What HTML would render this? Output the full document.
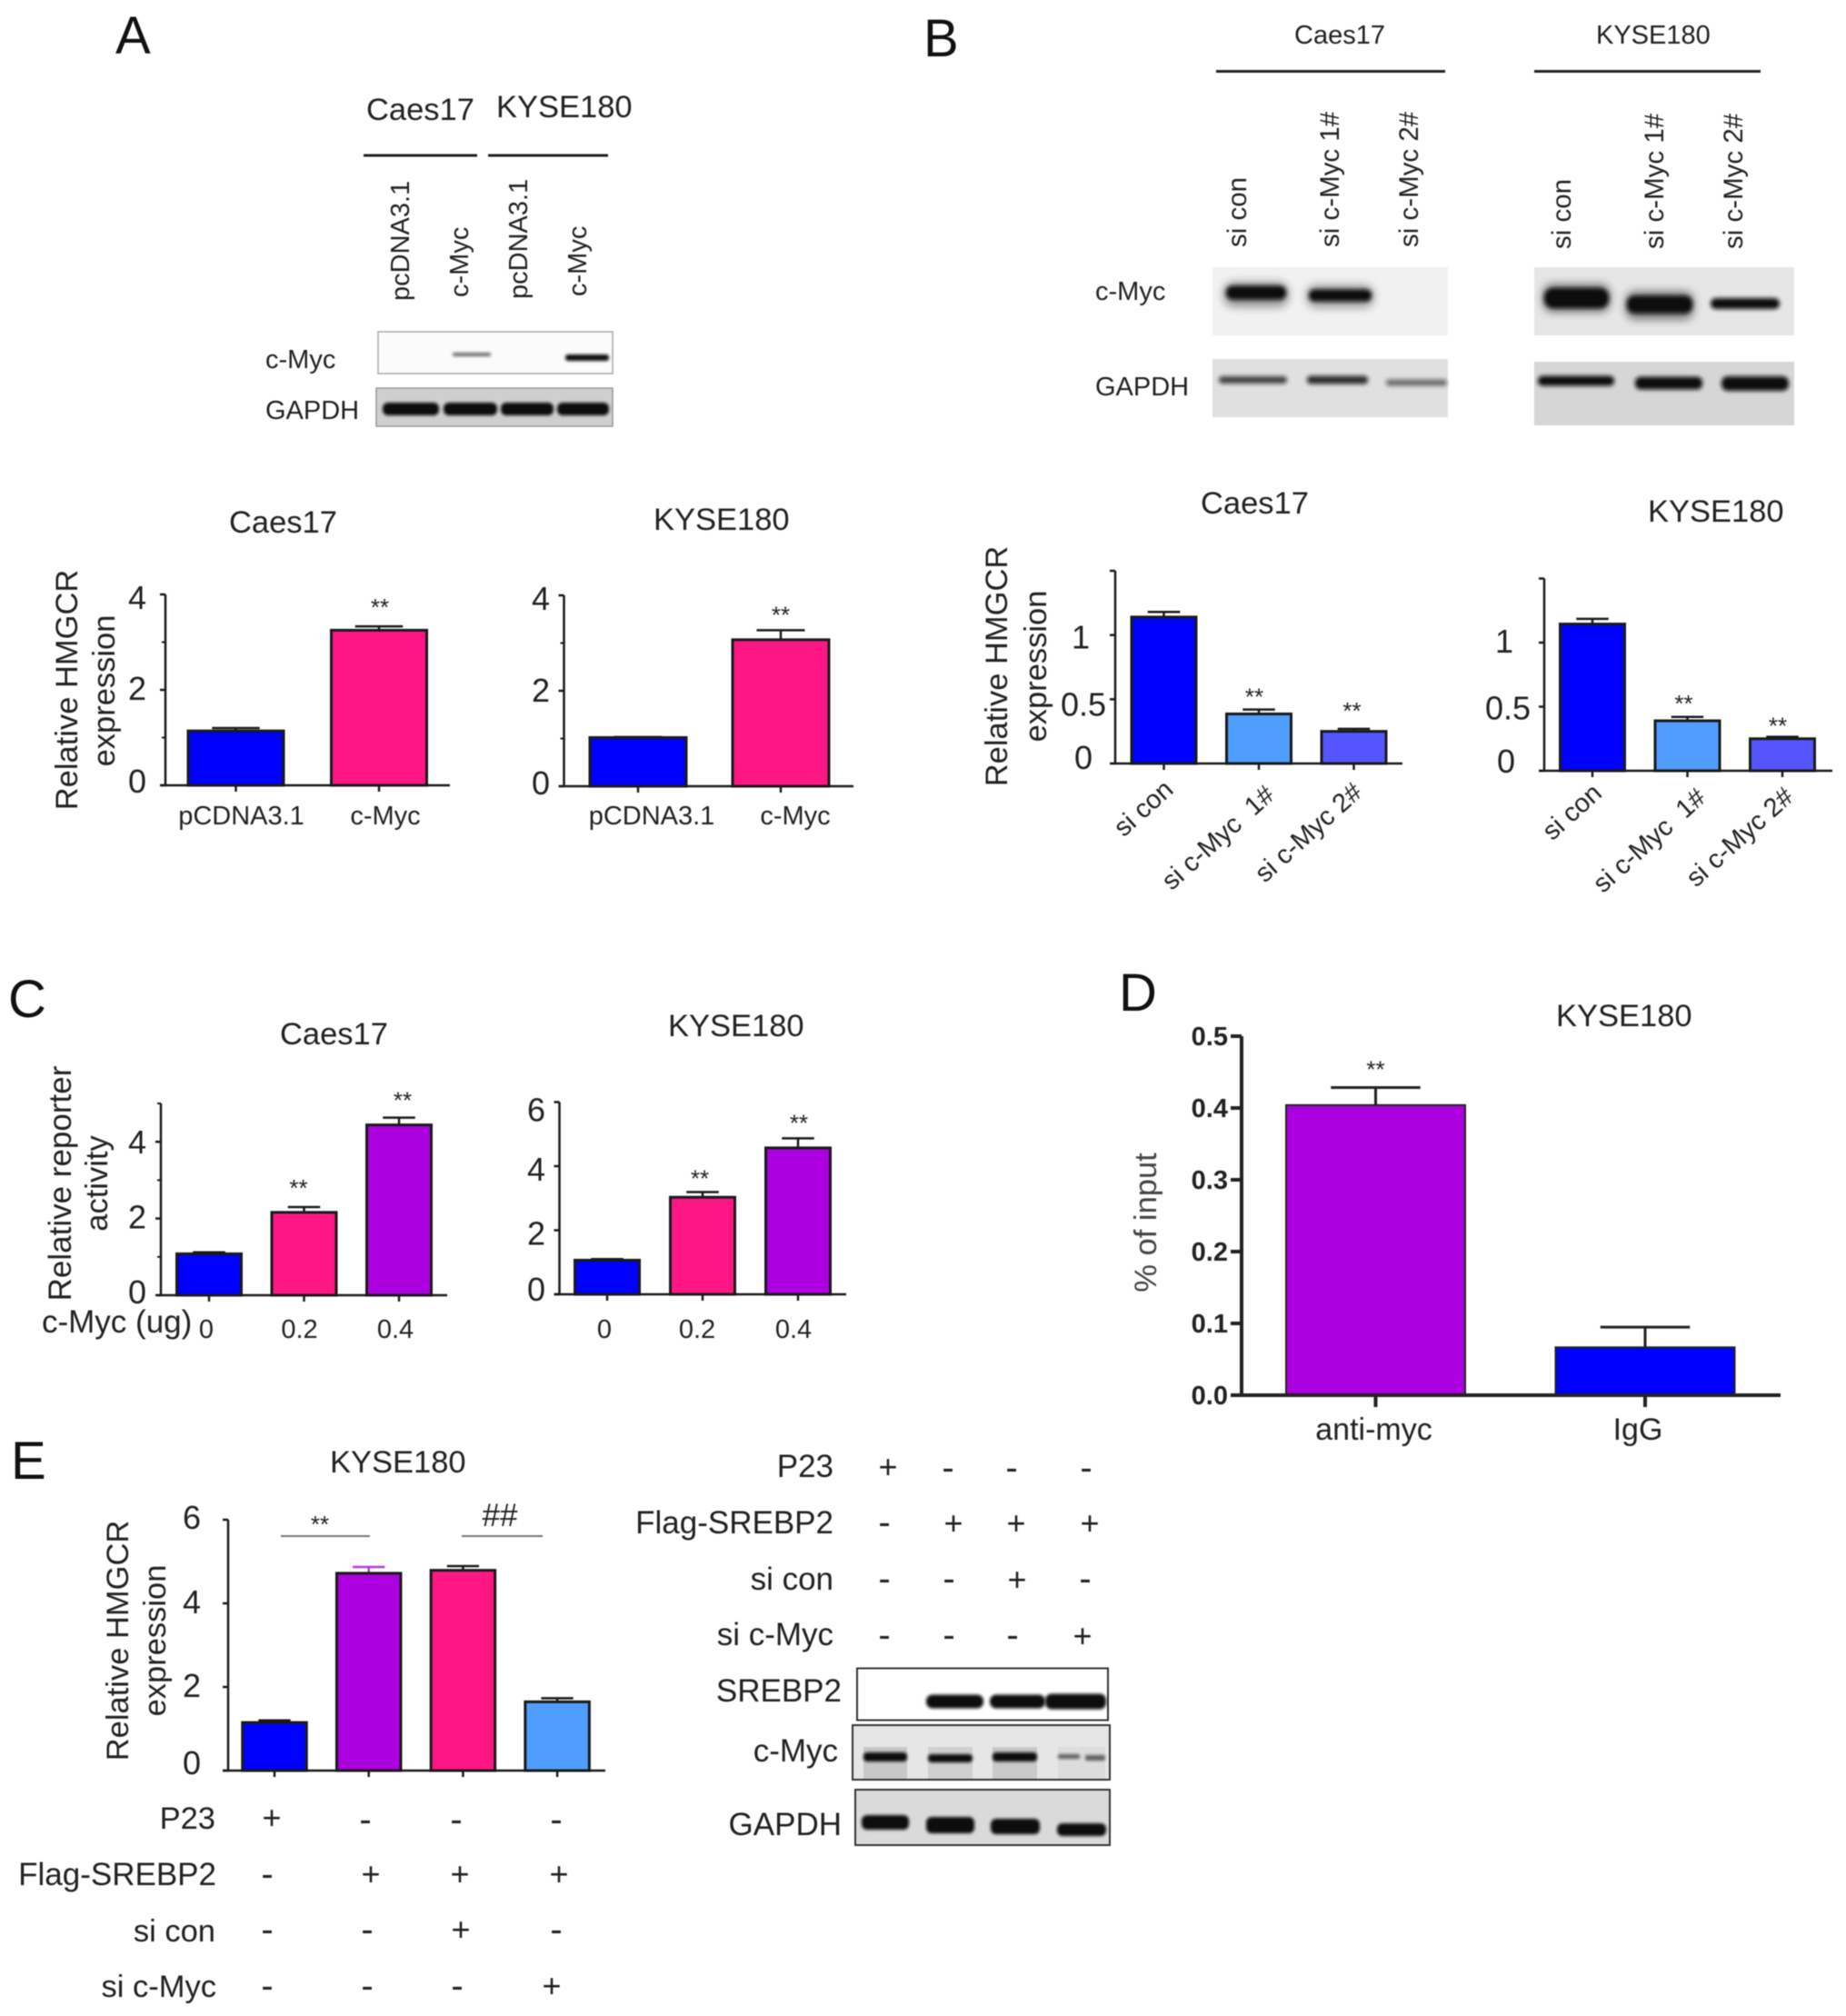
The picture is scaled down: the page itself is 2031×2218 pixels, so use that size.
<!DOCTYPE html>
<html lang="en">
<head>
<meta charset="utf-8">
<title>c-Myc and HMGCR figure</title>
<style>
html,body{margin:0;padding:0;background:#fff;}
svg{display:block;filter:blur(0.6px);}
text{font-family:"Liberation Sans",Arial,sans-serif;fill:#222;white-space:pre;}
.letter{font-size:58px;fill:#111;}
.t34{font-size:34.5px;}
.t35{font-size:35px;}
.t29{font-size:29px;}
.rot{font-size:29px;}
.rotb{font-size:29.5px;}
.band{fill:#0c0c0c;}
.plus{font-size:36px;text-anchor:middle;}
.minus{font-size:40px;text-anchor:middle;}
</style>
</head>
<body>
<svg id="figure" xmlns="http://www.w3.org/2000/svg" width="2031" height="2218" viewBox="0 0 2031 2218">
<defs>
<filter id="b1" x="-20%" y="-60%" width="140%" height="220%"><feGaussianBlur stdDeviation="1.5"/></filter>
<filter id="b2" x="-20%" y="-80%" width="140%" height="260%"><feGaussianBlur stdDeviation="2.5"/></filter>
<filter id="b4" x="-20%" y="-100%" width="140%" height="300%"><feGaussianBlur stdDeviation="5"/></filter>
</defs>
<rect width="2031" height="2218" fill="#fff"/>

<text class="letter" x="127" y="59">A</text>
<text class="letter" x="1016" y="62">B</text>
<text class="letter" x="9" y="1119">C</text>
<text class="letter" x="1231" y="1112">D</text>
<text class="letter" x="12" y="1627">E</text>

<!-- Panel A western blot -->
<g>
<text class="t34" x="403" y="132">Caes17</text>
<text class="t34" x="546" y="129">KYSE180</text>
<line x1="400" y1="171" x2="525" y2="171" stroke="#222" stroke-width="3"/>
<line x1="537" y1="171" x2="669" y2="171" stroke="#222" stroke-width="3"/>
<text class="rot" transform="translate(450,331) rotate(-90)">pcDNA3.1</text>
<text class="rot" transform="translate(515,327) rotate(-90)">c-Myc</text>
<text class="rot" transform="translate(580,329) rotate(-90)">pcDNA3.1</text>
<text class="rot" transform="translate(645,326) rotate(-90)">c-Myc</text>
<text class="t29" x="292" y="405">c-Myc</text>
<text class="t29" x="292" y="461">GAPDH</text>
<rect x="416" y="365" width="258" height="46" fill="#fbfbfb" stroke="#aaa" stroke-width="1.5"/>
<rect class="band" x="498" y="388" width="42" height="4" rx="2" filter="url(#b1)" opacity=".6"/>
<rect class="band" x="622" y="390" width="48" height="7" rx="3" filter="url(#b1)"/>
<rect x="414" y="427" width="260" height="42" fill="#cfcfcf" stroke="#999" stroke-width="1.5"/>
<rect class="band" x="421" y="443" width="62" height="14" rx="6" filter="url(#b1)"/>
<rect class="band" x="488" y="443" width="59" height="14" rx="6" filter="url(#b1)"/>
<rect class="band" x="551" y="443" width="58" height="14" rx="6" filter="url(#b1)"/>
<rect class="band" x="613" y="443" width="57" height="14" rx="6" filter="url(#b1)"/>
</g>

<!-- Panel B western blots -->
<g>
<text class="t29" x="1424" y="48">Caes17</text>
<text class="t29" x="1756" y="48">KYSE180</text>
<line x1="1338" y1="78.5" x2="1590" y2="78.5" stroke="#222" stroke-width="3"/>
<line x1="1688" y1="78.5" x2="1937" y2="78.5" stroke="#222" stroke-width="3"/>
<text class="rotb" transform="translate(1371,272) rotate(-90)">si con</text>
<text class="rotb" transform="translate(1473,272) rotate(-90)">si c-Myc 1#</text>
<text class="rotb" transform="translate(1560,272) rotate(-90)">si c-Myc 2#</text>
<text class="rotb" transform="translate(1728,274) rotate(-90)">si con</text>
<text class="rotb" transform="translate(1830,274) rotate(-90)">si c-Myc 1#</text>
<text class="rotb" transform="translate(1917,274) rotate(-90)">si c-Myc 2#</text>
<text class="t29" x="1205" y="330">c-Myc</text>
<text class="t29" x="1205" y="435">GAPDH</text>
<rect x="1334" y="294" width="259" height="75" fill="#f1f1f1"/>
<rect class="band" x="1347" y="311" width="70" height="26" rx="10" filter="url(#b4)" opacity=".45"/>
<rect class="band" x="1438" y="314" width="73" height="24" rx="10" filter="url(#b4)" opacity=".4"/>
<rect class="band" x="1349" y="314.5" width="66" height="15" rx="7" filter="url(#b2)"/>
<rect class="band" x="1440" y="318.5" width="69" height="13" rx="6" filter="url(#b2)"/>
<rect x="1334" y="395" width="259" height="64" fill="#e0e0e0"/>
<rect class="band" x="1341" y="414" width="75" height="8" rx="4" filter="url(#b2)" opacity=".75"/>
<rect class="band" x="1438" y="413.5" width="67" height="9" rx="4" filter="url(#b2)" opacity=".85"/>
<rect class="band" x="1525" y="417.5" width="67" height="7" rx="3" filter="url(#b2)" opacity=".55"/>
<rect x="1688" y="294" width="286" height="75" fill="#e6e6e6"/>
<rect class="band" x="1698" y="313" width="73" height="30" rx="10" filter="url(#b4)" opacity=".55"/>
<rect class="band" x="1789" y="321" width="74" height="30" rx="10" filter="url(#b4)" opacity=".55"/>
<rect class="band" x="1699" y="317" width="71" height="22" rx="10" filter="url(#b2)"/>
<rect class="band" x="1790" y="325.5" width="72" height="19" rx="8" filter="url(#b2)"/>
<rect class="band" x="1882" y="328" width="76" height="12" rx="6" filter="url(#b2)"/>
<rect x="1688" y="398" width="286" height="70" fill="#d6d6d6"/>
<rect class="band" x="1692" y="413.5" width="84" height="11" rx="5" filter="url(#b2)"/>
<rect class="band" x="1799" y="414.5" width="74" height="14" rx="6" filter="url(#b2)"/>
<rect class="band" x="1894" y="414" width="74" height="16" rx="7" filter="url(#b2)"/>
</g>

<!-- Chart titles and axis titles -->
<g>
<text class="t34" x="252" y="586">Caes17</text>
<text class="t34" x="719" y="583">KYSE180</text>
<text class="t34" text-anchor="middle" transform="translate(85,759) rotate(-90)">Relative HMGCR</text>
<text class="t34" text-anchor="middle" transform="translate(126,760) rotate(-90)">expression</text>
<text class="t34" x="1321" y="565">Caes17</text>
<text class="t34" x="1813" y="574">KYSE180</text>
<text class="t34" text-anchor="middle" transform="translate(1108,733) rotate(-90)">Relative HMGCR</text>
<text class="t34" text-anchor="middle" transform="translate(1151,733) rotate(-90)">expression</text>
<text class="t34" x="308" y="1149">Caes17</text>
<text class="t34" x="735" y="1140">KYSE180</text>
<text class="t35" text-anchor="middle" transform="translate(78,1302) rotate(-90)">Relative reporter</text>
<text class="t34" text-anchor="middle" transform="translate(118,1302) rotate(-90)">activity</text>
<text class="t34" x="46" y="1466" style="font-size:35px">c-Myc (ug)</text>
<text class="t34" x="1712" y="1129">KYSE180</text>
<text class="t34" text-anchor="middle" style="fill:#444" transform="translate(1272,1345) rotate(-90)">% of input</text>
<text class="t34" x="363" y="1620">KYSE180</text>
<text class="t34" text-anchor="middle" transform="translate(141,1805) rotate(-90)">Relative HMGCR</text>
<text class="t34" text-anchor="middle" transform="translate(182,1805) rotate(-90)">expression</text>
</g>

<!-- Panel E significance -->
<g>
<line x1="309" y1="1696" x2="407" y2="1696" stroke="#777" stroke-width="2" transform="translate(0,-6)"/>
<line x1="508" y1="1696" x2="597" y2="1696" stroke="#777" stroke-width="2" transform="translate(0,-6)"/>
<text x="352" y="1686" font-size="26" text-anchor="middle">**</text>
<text x="550" y="1679" font-size="35" text-anchor="middle">##</text>
</g>

<!-- Panel E treatment table under chart -->
<g>
<g text-anchor="end">
<text class="t34" x="237" y="2012">P23</text>
<text class="t34" x="238" y="2074" style="font-size:35px">Flag-SREBP2</text>
<text class="t34" x="237" y="2136">si con</text>
<text class="t34" x="238" y="2197">si c-Myc</text>
</g>
<text class="plus" x="299" y="2012">+</text><text class="minus" x="402" y="2015">-</text><text class="minus" x="502" y="2015">-</text><text class="minus" x="612" y="2015">-</text>
<text class="minus" x="294" y="2075">-</text><text class="plus" x="408" y="2074">+</text><text class="plus" x="506" y="2074">+</text><text class="plus" x="615" y="2074">+</text>
<text class="minus" x="294" y="2136">-</text><text class="minus" x="404" y="2136">-</text><text class="plus" x="507" y="2135">+</text><text class="minus" x="612" y="2136">-</text>
<text class="minus" x="294" y="2198">-</text><text class="minus" x="404" y="2198">-</text><text class="minus" x="503" y="2198">-</text><text class="plus" x="607" y="2197">+</text>
</g>

<!-- Panel E blot -->
<g>
<g text-anchor="end">
<text class="t35" x="917" y="1625">P23</text>
<text class="t35" x="917" y="1687">Flag-SREBP2</text>
<text class="t35" x="917" y="1749">si con</text>
<text class="t35" x="917" y="1810">si c-Myc</text>
<text class="t35" x="926" y="1872">SREBP2</text>
<text class="t35" x="922" y="1938">c-Myc</text>
<text class="t35" x="926" y="2019">GAPDH</text>
</g>
<text class="plus" x="977" y="1626">+</text><text class="minus" x="1043" y="1628">-</text><text class="minus" x="1113" y="1628">-</text><text class="minus" x="1195" y="1628">-</text>
<text class="minus" x="973" y="1688">-</text><text class="plus" x="1049" y="1688">+</text><text class="plus" x="1118" y="1688">+</text><text class="plus" x="1199" y="1688">+</text>
<text class="minus" x="973" y="1750">-</text><text class="minus" x="1044" y="1750">-</text><text class="plus" x="1119" y="1750">+</text><text class="minus" x="1194" y="1750">-</text>
<text class="minus" x="973" y="1812">-</text><text class="minus" x="1044" y="1812">-</text><text class="minus" x="1114" y="1812">-</text><text class="plus" x="1191" y="1812">+</text>
<rect x="943" y="1835.5" width="276" height="57" fill="#fff" stroke="#333" stroke-width="2"/>
<rect class="band" x="1019" y="1864.5" width="63" height="15" rx="7" filter="url(#b1)"/>
<rect class="band" x="1089" y="1864.5" width="61" height="15" rx="7" filter="url(#b1)"/>
<rect class="band" x="1150" y="1863.5" width="67" height="17" rx="7" filter="url(#b1)"/>
<rect x="938" y="1898" width="283" height="60" fill="#e6e6e6" stroke="#333" stroke-width="2"/>
<rect x="950" y="1922" width="48" height="35" fill="#c8c8c8"/>
<rect x="1021" y="1922" width="49" height="35" fill="#d0d0d0"/>
<rect x="1092" y="1922" width="49" height="35" fill="#cacaca"/>
<rect x="1164" y="1922" width="52" height="35" fill="#dcdcdc"/>
<rect class="band" x="950" y="1928" width="48" height="10" rx="4" filter="url(#b1)"/>
<rect class="band" x="1021" y="1930" width="49" height="9" rx="4" filter="url(#b1)"/>
<rect class="band" x="1092" y="1928" width="49" height="10" rx="4" filter="url(#b1)"/>
<rect class="band" x="1164" y="1930" width="24" height="5" rx="2" filter="url(#b1)" opacity=".6"/>
<rect class="band" x="1194" y="1931" width="22" height="6" rx="2" filter="url(#b1)" opacity=".6"/>
<rect x="941" y="1969" width="280" height="61" fill="#dadada" stroke="#333" stroke-width="2"/>
<rect class="band" x="948" y="1997" width="52" height="16" rx="6" filter="url(#b1)"/>
<rect class="band" x="1019" y="1999" width="53" height="18" rx="6" filter="url(#b1)"/>
<rect class="band" x="1090" y="2001" width="54" height="17" rx="6" filter="url(#b1)"/>
<rect class="band" x="1163" y="2006" width="54" height="14" rx="6" filter="url(#b1)"/>
</g>

<g id="charts"></g>
</svg>

<script>
// ---- Chart data ----
const a1Categories = ['pCDNA3.1', 'c-Myc'];
const a1Values = [1.14, 3.25];
const a1Errors = [0.06, 0.08];
const a1Stars = ['', '**'];
const a2Categories = ['pCDNA3.1', 'c-Myc'];
const a2Values = [1.02, 3.07];
const a2Errors = [0.01, 0.2];
const a2Stars = ['', '**'];
const aTicks = [0, 2, 4];
const aTickLabels = ['0', '2', '4'];
const aMinorTicks = [1, 3];

const b1Categories = ['si con', 'si c-Myc  1#', 'si c-Myc 2#'];
const b1Values = [1.14, 0.386, 0.25];
const b1Errors = [0.04, 0.034, 0.02];
const b1Stars = ['', '**', '**'];
const b2Categories = ['si con', 'si c-Myc  1#', 'si c-Myc 2#'];
const b2Values = [1.145, 0.39, 0.25];
const b2Errors = [0.04, 0.03, 0.015];
const b2Stars = ['', '**', '**'];
const bTicks = [0, 0.5, 1, 1.5];
const bTickLabels = ['0', '0.5', '1', ''];

const c1Categories = ['0', '0.2', '0.4'];
const c1Values = [1.08, 2.16, 4.44];
const c1Errors = [0.04, 0.14, 0.19];
const c1Stars = ['', '**', '**'];
const c1Ticks = [0, 2, 4];
const c1TickLabels = ['0', '2', '4'];
const c1MinorTicks = [1, 3, 5];
const c2Categories = ['0', '0.2', '0.4'];
const c2Values = [1.065, 3.03, 4.57];
const c2Errors = [0.035, 0.16, 0.3];
const c2Stars = ['', '**', '**'];
const c2Ticks = [0, 2, 4, 6];
const c2TickLabels = ['0', '2', '4', '6'];

const dCategories = ['anti-myc', 'IgG'];
const dValues = [0.404, 0.0667];
const dErrors = [0.0245, 0.028];
const dStars = ['**', ''];
const dTicks = [0, 0.1, 0.2, 0.3, 0.4, 0.5];
const dTickLabels = ['0.0', '0.1', '0.2', '0.3', '0.4', '0.5'];

const eCategories = ['P23', 'Flag-SREBP2', 'si con', 'si c-Myc'];
const eValues = [1.15, 4.72, 4.79, 1.645];
const eErrors = [0.05, 0.15, 0.1, 0.085];
const eTicks = [0, 2, 4, 6];
const eTickLabels = ['0', '2', '4', '6'];

const BLUE = '#0000ff', PINK = '#ff1685', PURPLE = '#ad00e0', SKY = '#4f9dff', PERI = '#5555ff';

const NS = 'http://www.w3.org/2000/svg';
const chartsRoot = document.getElementById('charts');

function svgEl(tag, props, parent) {
  const el = document.createElementNS(NS, tag);
  for (const k in props) el.setAttribute(k, props[k]);
  parent.appendChild(el);
  return el;
}

function drawChart(cfg) {
  const ink = cfg.ink || '#1a1a1a';
  const g = svgEl('g', {}, chartsRoot);
  
  
  const yScale = function (v) { return cfg.yBase - v * (cfg.yBase - cfg.yTop) / cfg.vMax; };
  const xScale = function (i) { return cfg.firstCenter + i * cfg.step; };

  cfg.values.forEach(function (v, i) {
    const cx = xScale(i);
    const top = yScale(v);
    const errTop = yScale(v + cfg.errors[i]);
    const errColor = (cfg.errorColors && cfg.errorColors[i]) || ink;

    const stem = svgEl('line', { x1: cx, x2: cx, y1: top, y2: errTop, stroke: errColor, 'stroke-width': cfg.errW || 2.5 }, g);
    
    
    const cap = svgEl('line', { x1: cx - cfg.barW / 4, x2: cx + cfg.barW / 4, y1: errTop, y2: errTop, stroke: errColor, 'stroke-width': cfg.errW || 2.5 }, g);
    
    

    const bar = svgEl('rect', { x: cx - cfg.barW / 2, y: top, width: cfg.barW, height: cfg.yBase - top, fill: cfg.colors[i], stroke: ink, 'stroke-width': cfg.barStroke || 3 }, g);
    
    

    const tick = svgEl('line', { x1: cx, x2: cx, y1: cfg.yBase, y2: cfg.yBase + (cfg.xTickLen || 7), stroke: ink, 'stroke-width': cfg.axisW || 2.5 }, g);
    
    

    if (cfg.showCategories !== false) {
      const n = cfg.catNudge[i];
      const props = { 'font-size': cfg.catFont || 29 };
      if (cfg.catRotate) {
        props['text-anchor'] = 'end';
        props.transform = 'translate(' + (cx + n[0]) + ',' + (cfg.yBase + n[1]) + ') rotate(' + cfg.catRotate + ')';
      } else {
        props['text-anchor'] = 'middle';
        props.x = cx + n[0];
        props.y = cfg.yBase + n[1];
      }
      const lab = svgEl('text', props, g);
      lab.textContent = cfg.categories[i];
      
      
    }

    if (cfg.stars && cfg.stars[i]) {
      const sn = cfg.starNudge[i];
      const star = svgEl('text', { x: cx + sn[0], y: errTop - sn[1] + 14, 'font-size': 26, 'text-anchor': 'middle' }, g);
      star.textContent = cfg.stars[i];
      
      
    }
  });

  const yAxis = svgEl('line', { x1: cfg.x0, x2: cfg.x0, y1: cfg.yTop, y2: cfg.yBase + 1, stroke: ink, 'stroke-width': cfg.axisW || 2.5 }, g);
  
  
  const xAxis = svgEl('line', { x1: cfg.xStart, x2: cfg.xEnd, y1: cfg.yBase, y2: cfg.yBase, stroke: ink, 'stroke-width': cfg.axisW || 2.5 }, g);
  
  

  cfg.ticks.forEach(function (t, i) {
    const y = yScale(t);
    const tick = svgEl('line', { x1: cfg.x0 - (cfg.yTickLen || 6), x2: cfg.x0, y1: y, y2: y, stroke: ink, 'stroke-width': cfg.axisW || 2.5 }, g);
    
    
    if (cfg.tickLabels[i]) {
      const n = cfg.tickNudge[i];
      const lab = svgEl('text', { x: n[0], y: y + n[1], 'text-anchor': 'end', 'font-size': cfg.tickFont || 36, 'font-weight': cfg.tickWeight || 'normal' }, g);
      lab.textContent = cfg.tickLabels[i];
      
      
    }
  });
  (cfg.minorTicks || []).forEach(function (t) {
    const y = yScale(t);
    const tick = svgEl('line', { x1: cfg.x0 - 4, x2: cfg.x0, y1: y, y2: y, stroke: ink, 'stroke-width': 2 }, g);
    
    
  });
}

drawChart({ name: 'chart-a1-caes17', categories: a1Categories, values: a1Values, errors: a1Errors, stars: a1Stars,
  colors: [BLUE, PINK], ticks: aTicks, tickLabels: aTickLabels, minorTicks: aMinorTicks,
  x0: 182, xStart: 177, xEnd: 495, yTop: 654, yBase: 864, vMax: 4,
  firstCenter: 259.5, step: 157.5, barW: 105,
  catNudge: [[6, 43], [7, 43]], tickNudge: [[161, 8], [161, 11], [161, 16]], starNudge: [[0, 0], [1, 26]] });

drawChart({ name: 'chart-a2-kyse180', categories: a2Categories, values: a2Values, errors: a2Errors, stars: a2Stars,
  colors: [BLUE, PINK], ticks: aTicks, tickLabels: aTickLabels, minorTicks: aMinorTicks,
  x0: 620.5, xStart: 616, xEnd: 939, yTop: 655, yBase: 865, vMax: 4,
  firstCenter: 702, step: 157, barW: 106,
  catNudge: [[15, 42], [16, 42]], tickNudge: [[605, 9], [605, 12], [605, 16]], starNudge: [[0, 0], [0, 22]] });

drawChart({ name: 'chart-b1-caes17', categories: b1Categories, values: b1Values, errors: b1Errors, stars: b1Stars,
  colors: [BLUE, SKY, PERI], ticks: bTicks, tickLabels: bTickLabels,
  x0: 1227, xStart: 1224, xEnd: 1543, yTop: 628, yBase: 840, vMax: 1.5,
  firstCenter: 1280.5, step: 104.5, barW: 71,
  catRotate: -42, catNudge: [[12, 31], [19, 37], [11, 34]],
  tickNudge: [[1202, 6], [1217, 18], [1199, 15], [1199, 0]], starNudge: [[0, 0], [-5, 19], [-2, 25]] });

drawChart({ name: 'chart-b2-kyse180', categories: b2Categories, values: b2Values, errors: b2Errors, stars: b2Stars,
  colors: [BLUE, SKY, PERI], ticks: bTicks, tickLabels: bTickLabels,
  x0: 1699, xStart: 1694, xEnd: 2016, yTop: 636.5, yBase: 848, vMax: 1.5,
  firstCenter: 1752, step: 104.5, barW: 71,
  catRotate: -42, catNudge: [[12, 27], [22, 32], [14, 31]],
  tickNudge: [[1667, 2], [1684, 14], [1665, 11], [1665, 0]], starNudge: [[0, 0], [-4, 20], [-5, 17]] });

drawChart({ name: 'chart-c1-caes17', categories: c1Categories, values: c1Values, errors: c1Errors, stars: c1Stars,
  colors: [BLUE, PINK, PURPLE], ticks: c1Ticks, tickLabels: c1TickLabels, minorTicks: c1MinorTicks,
  x0: 177, xStart: 173.5, xEnd: 492, yTop: 1214, yBase: 1425, vMax: 5,
  firstCenter: 230, step: 104.5, barW: 71,
  catNudge: [[-3, 47], [-5, 47], [-4, 47]], tickNudge: [[161, 9], [161, 11], [161, 13]], starNudge: [[0, 0], [-6, 26], [4, 24]] });

drawChart({ name: 'chart-c2-kyse180', categories: c2Categories, values: c2Values, errors: c2Errors, stars: c2Stars,
  colors: [BLUE, PINK, PURPLE], ticks: c2Ticks, tickLabels: c2TickLabels,
  x0: 615.5, xStart: 611, xEnd: 931, yTop: 1212.5, yBase: 1424, vMax: 6,
  firstCenter: 668, step: 105, barW: 71,
  catNudge: [[-3, 48], [-6, 48], [-5, 48]], tickNudge: [[600, 7], [600, 16], [600, 16], [600, 21]], starNudge: [[0, 0], [-3, 20], [1, 22]] });

drawChart({ name: 'chart-d-kyse180', categories: dCategories, values: dValues, errors: dErrors, stars: dStars,
  colors: [PURPLE, BLUE], ticks: dTicks, tickLabels: dTickLabels, ink: '#222',
  x0: 1366, xStart: 1354, xEnd: 1959, yTop: 1140, yBase: 1535, vMax: 0.5,
  firstCenter: 1513.5, step: 296.5, barW: 197, barStroke: 2, errW: 3, axisW: 4, yTickLen: 12, xTickLen: 13,
  catFont: 34, catNudge: [[-2, 49], [-8, 49]], tickFont: 29, tickWeight: 'bold',
  tickNudge: [[1351, 10], [1351, 10], [1351, 10], [1351, 10], [1351, 10], [1351, 10]], starNudge: [[0, 25], [0, 0]] });

drawChart({ name: 'chart-e-kyse180', categories: eCategories, values: eValues, errors: eErrors,
  colors: [BLUE, PURPLE, PINK, SKY], errorColors: [null, '#b23ad8', null, null], ticks: eTicks, tickLabels: eTickLabels,
  x0: 251, xStart: 245, xEnd: 666, yTop: 1672, yBase: 1948, vMax: 6,
  firstCenter: 302, step: 103.7, barW: 70.5, showCategories: false,
  tickNudge: [[221, 4], [221, 11], [221, 11], [221, 10]] });
</script>
</body>
</html>
